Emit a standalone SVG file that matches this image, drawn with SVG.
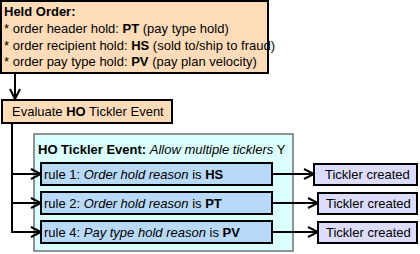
<svg xmlns="http://www.w3.org/2000/svg" width="420" height="254" viewBox="0 0 420 254">
<defs>
<style>
text{font-family:"Liberation Sans",Arial,sans-serif;font-size:13px;fill:#000}
.b{font-weight:bold}
.i{font-style:italic}
.peach{fill:#ffdcb9;stroke:#000;stroke-width:2}
.cont{fill:#dcffff;stroke:#707070;stroke-width:1.5}
.rule{fill:#b9d9f9;stroke:#000;stroke-width:2}
.tick{fill:#dcdcfc;stroke:#000;stroke-width:2}
.ln{fill:none;stroke:#000;stroke-width:2}
</style>
<marker id="ah" viewBox="0 0 12 12" refX="11" refY="6" markerWidth="12" markerHeight="12" markerUnits="userSpaceOnUse" orient="auto">
<path d="M1,1 L11,6 L1,11" fill="none" stroke="#000" stroke-width="2"/>
</marker>
</defs>
<g id="held-order">
<rect class="peach" x="1" y="1" width="267" height="72"/>
<text x="4" y="16" class="b">Held Order:</text>
<text x="4" y="33">* order header hold: <tspan class="b">PT</tspan> (pay type hold)</text>
<text x="4" y="50">* order recipient hold: <tspan class="b">HS</tspan> (sold to/ship to fraud)</text>
<text x="4" y="66">* order pay type hold: <tspan class="b">PV</tspan> (pay plan velocity)</text>
</g>
<g id="evaluate">
<rect class="peach" x="2" y="100" width="170" height="23"/>
<text x="12" y="116">Evaluate <tspan class="b">HO</tspan> Tickler Event</text>
</g>
<g id="ho-tickler-event">
<rect class="cont" x="34" y="134" width="259" height="117"/>
<text x="38" y="154"><tspan class="b">HO Tickler Event:</tspan> <tspan class="i">Allow multiple ticklers</tspan> Y</text>
</g>
<g id="rule1">
<rect class="rule" x="41" y="163" width="231" height="22"/>
<text x="44" y="179">rule 1: <tspan class="i">Order hold reason</tspan> is <tspan class="b">HS</tspan></text>
</g>
<g id="rule2">
<rect class="rule" x="41" y="192" width="231" height="22"/>
<text x="44" y="208">rule 2: <tspan class="i">Order hold reason</tspan> is <tspan class="b">PT</tspan></text>
</g>
<g id="rule4">
<rect class="rule" x="41" y="221" width="231" height="22"/>
<text x="44" y="237">rule 4: <tspan class="i">Pay type hold reason</tspan> is <tspan class="b">PV</tspan></text>
</g>
<g id="tickler1">
<rect class="tick" x="314" y="164" width="103" height="21"/>
<text x="325" y="179">Tickler created</text>
</g>
<g id="tickler2">
<rect class="tick" x="318" y="193" width="99" height="21"/>
<text x="326" y="208">Tickler created</text>
</g>
<g id="tickler3">
<rect class="tick" x="318" y="222" width="99" height="21"/>
<text x="326" y="237">Tickler created</text>
</g>
<g id="connectors">
<path class="ln" d="M15,74 V99" marker-end="url(#ah)"/>
<path class="ln" d="M12,124 V232 H41" marker-end="url(#ah)"/>
<path class="ln" d="M12,174 H41" marker-end="url(#ah)"/>
<path class="ln" d="M12,203 H41" marker-end="url(#ah)"/>
<path class="ln" d="M272,174 H314" marker-end="url(#ah)"/>
<path class="ln" d="M272,203 H318" marker-end="url(#ah)"/>
<path class="ln" d="M272,232 H318" marker-end="url(#ah)"/>
</g>
</svg>
